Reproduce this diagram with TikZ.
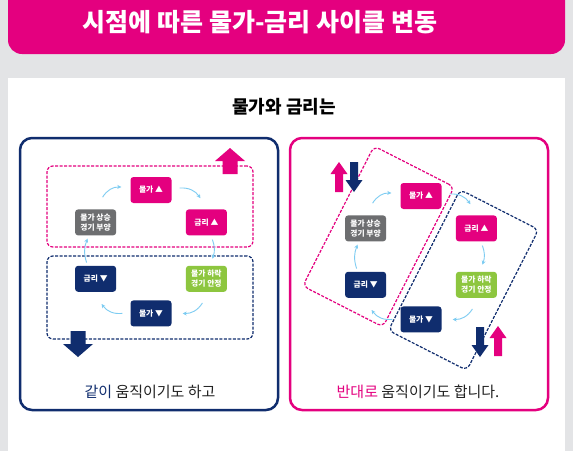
\documentclass[tikz,border=0pt]{standalone}
\usepackage{fontspec}
\setmainfont{Noto Sans CJK KR}
\usetikzlibrary{positioning, arrows.meta}
\definecolor{pinkc}{RGB}{228,0,127}
\definecolor{navyc}{RGB}{16,45,110}
\definecolor{grayc}{RGB}{109,110,112}
\definecolor{greenc}{RGB}{141,198,63}
\definecolor{skyc}{RGB}{125,204,242}
\definecolor{bgc}{RGB}{227,228,230}
\definecolor{inkc}{RGB}{34,34,34}
\tikzset{
    upbox/.style={rectangle, rounded corners=3pt, fill=pinkc, text=white, minimum width=41pt, minimum height=26pt, inner sep=1pt, align=center, font=\bfseries\fontsize{7.8}{9.5}\selectfont},
    downbox/.style={upbox, fill=navyc},
    boombox/.style={upbox, fill=grayc},
    calmbox/.style={upbox, fill=greenc},
    cyc/.style={-{Stealth[length=4pt, width=4pt]}, draw=skyc, line width=0.9pt},
    pinkzone/.style={rectangle, draw=pinkc, dash pattern=on 3pt off 1.5pt, line width=1.2pt, rounded corners=6pt},
    navyzone/.style={pinkzone, draw=navyc},
    panel/.style={rounded corners=12pt, line width=2.5pt, fill=white},
    bigup/.pic={\fill (0,0) -- (15,13) -- (7.5,13) -- (7.5,26) -- (-7.5,26) -- (-7.5,13) -- (-15,13) -- cycle;},
    thinup/.pic={\fill (0,0) -- (8.5,12) -- (4,12) -- (4,30) -- (-4,30) -- (-4,12) -- (-8.5,12) -- cycle;}
}

\begin{document}
\begin{tikzpicture}[x=1pt, y=-1pt]

% Background
\clip (0,0) rectangle (573,451);
\fill[bgc] (0,0) rectangle (573,451);
\fill[pinkc, rounded corners=14pt] (8,-20) rectangle (565,54);
\node (title) [text=white, font=\bfseries\fontsize{25}{28}\selectfont] at (260,22) {시점에 따른 물가-금리 사이클 변동};
\fill[white] (8,78) rectangle (565,470);
\node (subtitle) [text=black, font=\bfseries\fontsize{18}{20}\selectfont] at (284,107) {물가와 금리는};

% Panels
\draw[panel, draw=navyc] (20,138) rectangle (278,410);
\draw[panel, draw=pinkc] (290,138) rectangle (548,410);

% Left: zones
\node (lhigh) [pinkzone, minimum width=206pt, minimum height=81pt] at (150,206.5) {};
\node (llow) [navyzone, minimum width=206pt, minimum height=83pt] at (150,297.5) {};
\pic[pinkc] at (230,148) {bigup};
\pic[navyc, rotate=180] at (78,357) {bigup};

% Left: cycle
\node (lpriceup) [upbox] at (151,190) {물가 ▲};
\node (lrateup) [upbox, below right=6pt and 14pt of lpriceup] {금리 ▲};
\node (lboom) [boombox, below left=6pt and 14pt of lpriceup] {물가 상승\\경기 부양};
\node (lratedown) [downbox, below=30pt of lboom] {금리 ▼};
\node (lcalm) [calmbox, below=30pt of lrateup] {물가 하락\\경기 안정};
\node (lpricedown) [downbox, below=97pt of lpriceup] {물가 ▼};

\draw[cyc] ([xshift=7pt, yshift=12pt]lboom.north) to[bend left=30] ([xshift=-9pt, yshift=3pt]lpriceup.west);
\draw[cyc] ([xshift=8pt, yshift=2pt]lpriceup.east) to[bend left=30] ([xshift=-6pt, yshift=11pt]lrateup.north);
\draw[cyc] ([xshift=6pt, yshift=-4pt]lrateup.south) to[bend left=20] ([xshift=6pt, yshift=7pt]lcalm.north);
\draw[cyc] ([xshift=-4pt, yshift=-11pt]lcalm.south) to[bend left=30] ([xshift=11pt]lpricedown.east);
\draw[cyc] ([xshift=-8pt]lpricedown.west) to[bend left=30] ([xshift=6pt, yshift=-12pt]lratedown.south);
\draw[cyc] ([xshift=-9pt, yshift=3pt]lratedown.north) to[bend left=20] ([xshift=-8pt, yshift=-3pt]lboom.south);

\node (lnote) [text=inkc, font=\fontsize{15}{17}\selectfont] at (150,392) {\textcolor{navyc}{같이} 움직이기도 하고};

% Right: zones
\node (rhigh) [pinkzone, minimum width=90pt, minimum height=157pt, rotate=-27] at (378.5,236.5) {};
\node (rlow) [navyzone, minimum width=88pt, minimum height=158pt, rotate=-27] at (463.5,280) {};
\pic[pinkc] at (339,162) {thinup};
\pic[navyc, rotate=180] at (354,192) {thinup};
\pic[navyc, rotate=180] at (480,357) {thinup};
\pic[pinkc] at (498,326) {thinup};

% Right: cycle
\node (rpriceup) [upbox] at (421,196) {물가 ▲};
\node (rrateup) [upbox, below right=6pt and 14pt of rpriceup] {금리 ▲};
\node (rboom) [boombox, below left=6pt and 14pt of rpriceup] {물가 상승\\경기 부양};
\node (rratedown) [downbox, below=30pt of rboom] {금리 ▼};
\node (rcalm) [calmbox, below=30pt of rrateup] {물가 하락\\경기 안정};
\node (rpricedown) [downbox, below=97pt of rpriceup] {물가 ▼};

\draw[cyc] ([xshift=7pt, yshift=12pt]rboom.north) to[bend left=30] ([xshift=-9pt, yshift=3pt]rpriceup.west);
\draw[cyc] ([xshift=8pt, yshift=2pt]rpriceup.east) to[bend left=30] ([xshift=-6pt, yshift=11pt]rrateup.north);
\draw[cyc] ([xshift=6pt, yshift=-4pt]rrateup.south) to[bend left=20] ([xshift=6pt, yshift=7pt]rcalm.north);
\draw[cyc] ([xshift=-4pt, yshift=-11pt]rcalm.south) to[bend left=30] ([xshift=11pt]rpricedown.east);
\draw[cyc] ([xshift=-8pt]rpricedown.west) to[bend left=30] ([xshift=6pt, yshift=-12pt]rratedown.south);
\draw[cyc] ([xshift=-9pt, yshift=3pt]rratedown.north) to[bend left=20] ([xshift=-8pt, yshift=-3pt]rboom.south);

\node (rnote) [text=inkc, font=\fontsize{15}{17}\selectfont] at (418,392) {\textcolor{pinkc}{반대로} 움직이기도 합니다.};

\end{tikzpicture}
\end{document}
